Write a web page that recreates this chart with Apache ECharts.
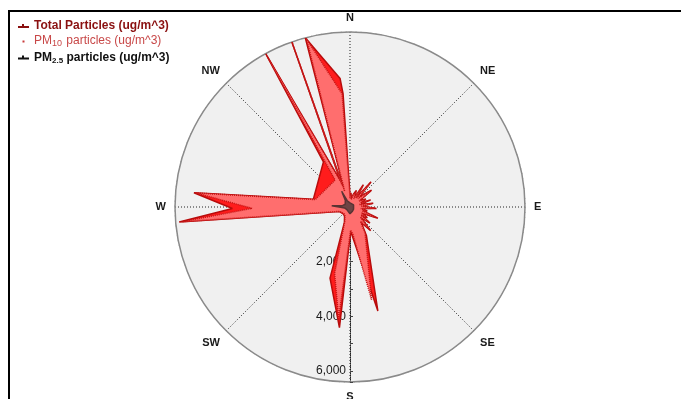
<!DOCTYPE html>
<html>
<head>
<meta charset="utf-8">
<title>Particle concentration by wind direction</title>
<script src="https://cdn.jsdelivr.net/npm/echarts@6/dist/echarts.min.js"></script>
<style>
  html, body { margin: 0; padding: 0; background: #fff; }
  #chart { width: 681px; height: 399px; }
</style>
</head>
<body>
<div id="chart"></div>
<script>
// Compass labels for the angle axis, clockwise from north
const directionLabels = ['N', 'NE', 'E', 'SE', 'S', 'SW', 'W', 'NW'];
// Radius values that carry a label (ug/m^3)
const radiusLabelValues = [2000, 4000, 6000];

// Total particles: wind direction (deg from north) and concentration
const totalDir = [0, 4, 9, 15, 21, 25, 31, 35, 40, 44, 48, 52, 57, 63, 68, 71, 76, 81, 86, 93,
  98, 103, 107, 112, 117, 122, 126, 129, 134, 139, 144, 150, 165, 175, 178.5, 185,
  195.7, 200, 210, 222, 235, 246, 252, 265, 269.3, 275.2, 282, 329.5, 331.2, 342, 339.8, 340.6,
  341.3, 345.2, 355.6, 356.5, 358.5, 360];
const totalVal = [350, 520, 300, 480, 650, 350, 950, 420, 1200, 450, 700, 1000, 420, 650, 450, 800,
  380, 860, 450, 970, 420, 650, 500, 1100, 500, 750, 520, 940, 560, 1150, 700, 1200, 3940,
  1100, 900, 4430, 2700, 600, 400, 350, 350, 420, 575, 6270, 4300, 5730, 1370, 1915, 6400,
  840, 1000, 6400, 600, 6400, 4710, 4150, 700, 350];

// PM10 particles
const pm10Dir = [0, 4, 9, 15, 21, 25, 31, 35, 40, 44, 48, 52, 57, 63, 68, 71, 76, 81, 86, 93,
  98, 103, 107, 112, 117, 122, 126, 129, 134, 139, 144, 150, 166.9, 174, 178.5, 185.8,
  193, 200, 210, 222, 235, 246, 252, 265, 269.2, 275.2, 282, 331, 331.2, 342, 339.8,
  340.6, 341.3, 345.5, 356, 358.5, 360];
const pm10Val = [320, 480, 280, 450, 600, 330, 900, 400, 1150, 420, 650, 950, 400, 600, 420, 750,
  360, 820, 420, 920, 400, 600, 470, 1000, 470, 700, 500, 880, 520, 1050, 650, 1100, 3480,
  1000, 850, 4100, 2500, 550, 370, 330, 330, 400, 550, 6150, 3580, 5650, 1300, 1125,
  6300, 800, 900, 6400, 600, 6350, 4150, 600, 320];

// PM2.5 particles
const pm25Dir = [0, 30, 60, 90, 120, 150, 180, 200, 230, 260, 270, 274, 278, 300, 325, 332, 336, 350, 360];
const pm25Val = [150, 120, 150, 130, 150, 180, 250, 200, 150, 200, 400, 670, 300, 200, 300, 650, 250, 200, 150];

// The angle axis starts at the bottom so the radius scale runs down the S spoke;
// compass bearings are shifted by half a turn to land on the right spoke.
const toPolar = (dirs, vals) => dirs.map((d, i) => [vals[i], (d + 180) % 360]);
const bearingOf = v => ((v + 180) % 360);

const chart = echarts.init(document.getElementById('chart'));
const font = "'Liberation Sans', Arial, sans-serif";

chart.setOption({
  animation: false,
  backgroundColor: '#ffffff',
  graphic: [{
    type: 'rect', z: 100, silent: true,
    shape: { x: 9, y: 11, width: 720, height: 440 },
    style: { fill: 'none', stroke: '#000', lineWidth: 2 }
  }],
  legend: {
    orient: 'vertical', left: 13, top: 15, itemGap: 3,
    itemWidth: 11, itemHeight: 6, selectedMode: false,
    textStyle: {
      fontFamily: font, fontSize: 12, fontWeight: 'bold',
      rich: {
        b: { fontFamily: font, fontSize: 12, fontWeight: 'bold' },
        n: { fontFamily: font, fontSize: 12, fontWeight: 'normal' },
        s: { fontFamily: font, fontSize: 8, verticalAlign: 'bottom', padding: [6, 0, 0, 0], fontWeight: 'bold' },
        sn: { fontFamily: font, fontSize: 9, verticalAlign: 'bottom', padding: [6, 1, 0, 0], fontWeight: 'normal' }
      }
    },
    formatter: function (name) {
      if (name.indexOf('PM10') === 0) return '{n|PM}{sn|10}{n| particles (ug/m^3)}';
      if (name.indexOf('PM2.5') === 0) return '{b|PM}{s|2.5}{b| particles (ug/m^3)}';
      return '{b|' + name + '}';
    },
    data: [
      { name: 'Total Particles (ug/m^3)', icon: 'path://M0,4h4v-2h2v2h5v2h-11z',
        itemStyle: { color: '#8a1010', borderWidth: 0 }, lineStyle: { width: 0 },
        textStyle: { color: '#8a1010' } },
      { name: 'PM10 particles (ug/m^3)', icon: 'path://M0,0L0,0M11,6L11,6M4.5,2.5h2v2h-2z',
        itemStyle: { color: '#c83a3a', borderWidth: 0 }, lineStyle: { width: 0 },
        textStyle: { color: '#c84848' } },
      { name: 'PM2.5 particles (ug/m^3)', icon: 'path://M0,4h4v-2h2v2h5v2h-11z',
        itemStyle: { color: '#111', borderWidth: 0 }, lineStyle: { width: 0 },
        textStyle: { color: '#111' } }
    ]
  },
  polar: { center: [350, 207], radius: 175 },
  angleAxis: {
    type: 'value', min: 0, max: 360, interval: 45,
    startAngle: -90, clockwise: true,
    axisLine: { show: true, lineStyle: { color: '#8a8a8a', width: 1.5 } },
    axisTick: { show: false },
    axisLabel: {
      margin: 9, color: '#1a1a1a', fontFamily: font, fontSize: 11, fontWeight: 'bold',
      formatter: function (v) {
        if (v >= 360) return '';
        return directionLabels[Math.round(bearingOf(v) / 45) % 8];
      }
    },
    splitLine: { show: true, lineStyle: { color: '#222', width: 1, type: [1, 2] } }
  },
  radiusAxis: {
    type: 'value', min: 0, max: 6400, interval: 1000,
    axisLine: { show: true, lineStyle: { color: '#222', width: 1, type: [1, 1] } },
    axisTick: { show: true, length: 3, lineStyle: { color: '#444' } },
    axisLabel: {
      color: '#1a1a1a', fontFamily: font, fontSize: 12, margin: -4, align: 'right',
      formatter: function (v) {
        return radiusLabelValues.indexOf(v) >= 0 ? v.toLocaleString('en-US') : '';
      }
    },
    splitLine: { show: true, lineStyle: { color: '#7a7a7a', width: 1, type: [1, 4] } },
    splitArea: { show: true, areaStyle: { color: ['#f0f0f0'] } }
  },
  series: [
    {
      name: 'Total Particles (ug/m^3)', type: 'line', coordinateSystem: 'polar',
      symbol: 'none', showSymbol: false, z: 2,
      data: toPolar(totalDir, totalVal),
      lineStyle: { color: '#b80c0c', width: 1.5 },
      itemStyle: { color: '#8a1010' },
      areaStyle: { color: '#ff1c1c', opacity: 1 }
    },
    {
      name: 'PM10 particles (ug/m^3)', type: 'line', coordinateSystem: 'polar',
      symbol: 'none', showSymbol: false, z: 3,
      data: toPolar(pm10Dir, pm10Val),
      lineStyle: { color: '#c41414', width: 1.5, type: [1, 1] },
      itemStyle: { color: '#c83a3a' },
      areaStyle: { color: '#ff6e6e', opacity: 1 }
    },
    {
      name: 'PM2.5 particles (ug/m^3)', type: 'line', coordinateSystem: 'polar',
      symbol: 'none', showSymbol: false, z: 4,
      data: toPolar(pm25Dir, pm25Val),
      lineStyle: { color: '#5a3434', width: 1.5 },
      itemStyle: { color: '#111' },
      areaStyle: { color: '#6e4444', opacity: 1 }
    }
  ]
});
</script>
</body>
</html>
